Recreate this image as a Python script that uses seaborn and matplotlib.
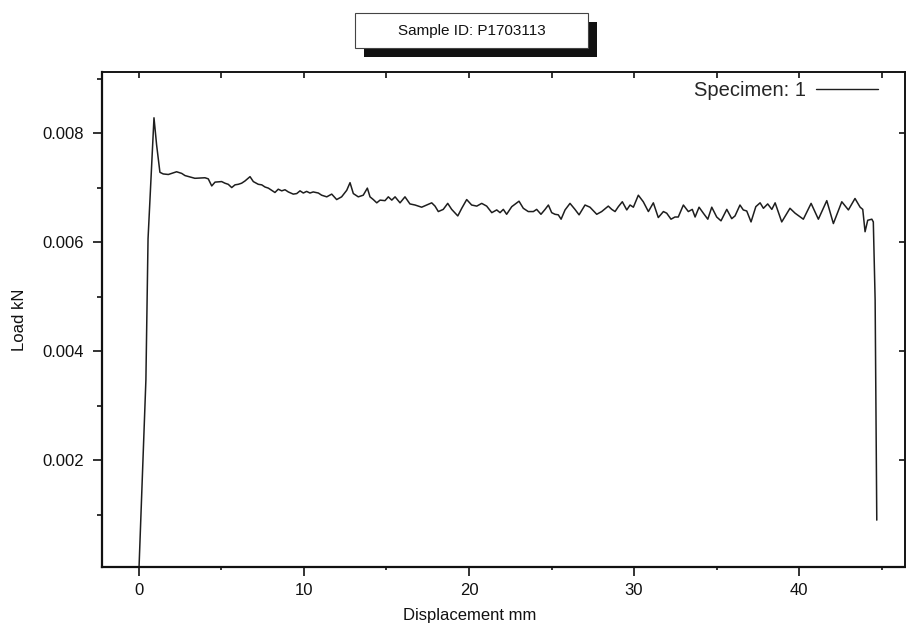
import matplotlib
matplotlib.use("Agg")
import matplotlib.pyplot as plt
import seaborn as sns
import numpy as np
import pandas as pd
from matplotlib.patches import Rectangle
from matplotlib.ticker import FixedLocator, NullFormatter

# ---------------- data ----------------
title_text = "Sample ID: P1703113"
series_label = "Specimen: 1"
x_label = "Displacement mm"
y_label = "Load kN"

displacement_mm = [
    0.00, 0.42, 0.55, 0.91, 1.07, 1.27, 1.47, 1.78, 2.28, 2.59, 2.79, 3.39, 4.00, 4.20, 4.41, 4.61,
    5.01, 5.21, 5.41, 5.62, 5.82, 6.02, 6.22, 6.42, 6.73, 6.93, 7.23, 7.44, 7.64, 7.84, 8.04, 8.24,
    8.44, 8.65, 8.85,
    9.05, 9.35, 9.56, 9.76, 9.96, 10.16, 10.36, 10.56, 10.87, 11.07, 11.38, 11.68, 11.98, 12.28,
    12.59, 12.79, 12.99, 13.29, 13.59, 13.84, 14.00, 14.20, 14.41, 14.61, 14.91, 15.11, 15.32,
    15.52, 15.82, 16.12, 16.42, 16.73, 17.13, 17.44, 17.74, 17.94,
    18.14, 18.44, 18.71, 18.95, 19.32, 19.56, 19.86, 20.16, 20.47, 20.77, 21.07, 21.38, 21.68,
    21.88, 22.08, 22.28, 22.59, 23.03, 23.29, 23.59, 23.90, 24.10, 24.36, 24.61, 24.81, 25.01,
    25.21, 25.41, 25.58, 25.82, 26.12, 26.42, 26.67, 27.03,
    27.33, 27.74, 28.04, 28.44, 28.65, 28.85, 29.05, 29.29, 29.56, 29.76, 29.96, 30.26, 30.56,
    30.87, 31.17, 31.47, 31.78, 31.98, 32.24, 32.48, 32.68, 32.99, 33.29, 33.53, 33.70, 33.94,
    34.20, 34.47, 34.71, 35.01, 35.27, 35.62, 35.92, 36.12,
    36.42, 36.62, 36.83, 37.09, 37.38, 37.64, 37.84, 38.10, 38.35, 38.55, 38.95, 39.45, 39.76,
    40.26, 40.73, 41.17, 41.68, 42.08, 42.59, 42.99, 43.39, 43.70, 43.86, 44.00, 44.16, 44.41,
    44.50, 44.61, 44.71,
]

# load in units of 0.001 kN
load_milli_kN = [
    0.00, 3.47, 6.06, 8.28, 7.78, 7.28, 7.25, 7.24, 7.29, 7.26, 7.22, 7.17, 7.18, 7.16, 7.03, 7.10,
    7.11, 7.08, 7.06, 7.00, 7.05, 7.06, 7.08, 7.12, 7.20, 7.11, 7.06, 7.05, 7.01, 6.99, 6.95, 6.91,
    6.97, 6.94, 6.96,
    6.92, 6.88, 6.89, 6.94, 6.90, 6.93, 6.90, 6.92, 6.90, 6.86, 6.83, 6.88, 6.78, 6.83,
    6.95, 7.09, 6.89, 6.83, 6.86, 6.99, 6.83, 6.78, 6.72, 6.77, 6.76, 6.83, 6.77,
    6.83, 6.72, 6.83, 6.70, 6.68, 6.64, 6.68, 6.72, 6.66,
    6.56, 6.60, 6.71, 6.60, 6.48, 6.62, 6.78, 6.68, 6.66, 6.71, 6.66, 6.54, 6.59,
    6.54, 6.60, 6.51, 6.65, 6.75, 6.62, 6.56, 6.56, 6.60, 6.51, 6.60, 6.68, 6.54,
    6.51, 6.50, 6.42, 6.59, 6.71, 6.60, 6.50, 6.68,
    6.64, 6.51, 6.56, 6.66, 6.60, 6.56, 6.65, 6.74, 6.59, 6.68, 6.64, 6.86, 6.74,
    6.56, 6.72, 6.45, 6.56, 6.53, 6.42, 6.46, 6.46, 6.68, 6.56, 6.60, 6.46, 6.64,
    6.53, 6.42, 6.64, 6.46, 6.39, 6.60, 6.43, 6.48,
    6.68, 6.59, 6.57, 6.37, 6.65, 6.72, 6.62, 6.70, 6.60, 6.72, 6.37, 6.62, 6.53,
    6.42, 6.71, 6.42, 6.76, 6.34, 6.74, 6.59, 6.80, 6.64, 6.60, 6.19, 6.40, 6.42,
    6.37, 4.94, 0.90,
]

x_major_ticks = [0, 10, 20, 30, 40]
x_minor_ticks = [5, 15, 25, 35, 45]
y_major_ticks = [0.002, 0.004, 0.006, 0.008]
y_minor_ticks = [0.001, 0.003, 0.005, 0.007, 0.009]
y_tick_labels = ["0.002", "0.004", "0.006", "0.008"]

df = pd.DataFrame({
    "Displacement": displacement_mm,
    "Load": np.array(load_milli_kN) / 1000.0,
})

# ---------------- styling ----------------
sns.set_theme(style="ticks")
plt.rcParams["font.family"] = ["Liberation Sans", "DejaVu Sans"]

W, H = 906, 629
fig = plt.figure(figsize=(W / 100, H / 100), dpi=100)
fig.patch.set_facecolor("white")

ax_left, ax_right, ax_top, ax_bottom = 102, 905, 72, 567
ax = fig.add_axes([ax_left / W, 1 - ax_bottom / H,
                   (ax_right - ax_left) / W, (ax_bottom - ax_top) / H])
ax.set_facecolor("white")

sns.lineplot(data=df, x="Displacement", y="Load", ax=ax, color="#1e1e1e",
             linewidth=1.1, sort=False, estimator=None, label=series_label)

ax.set_xlim(-2.24, 46.42)
ax.set_ylim(0.00004, 0.00912)

ax.xaxis.set_major_locator(FixedLocator(x_major_ticks))
ax.xaxis.set_minor_locator(FixedLocator(x_minor_ticks))
ax.yaxis.set_major_locator(FixedLocator(y_major_ticks))
ax.yaxis.set_minor_locator(FixedLocator(y_minor_ticks))
ax.set_yticklabels(y_tick_labels)
ax.xaxis.set_minor_formatter(NullFormatter())
ax.yaxis.set_minor_formatter(NullFormatter())

ax.tick_params(axis="both", which="major", direction="out", length=6.5, width=1.2,
               colors="#111111", labelsize=12, labelcolor="#111111")
ax.tick_params(axis="x", which="major", pad=5)
ax.tick_params(axis="y", which="major", pad=6.5)
ax.tick_params(axis="x", which="minor", direction="out", length=2.5, width=1.2, colors="#111111")
ax.tick_params(axis="y", which="minor", direction="out", length=3.8, width=1.2, colors="#111111")

for side in ["left", "bottom"]:
    ax.spines[side].set_linewidth(1.6)
    ax.spines[side].set_color("#111111")
for side in ["top", "right"]:
    ax.spines[side].set_visible(True)
    ax.spines[side].set_linewidth(1.2)
    ax.spines[side].set_color("#111111")

# inward ticks on top and right
sec_x = ax.secondary_xaxis("top")
sec_x.xaxis.set_major_locator(FixedLocator(x_major_ticks + x_minor_ticks))
sec_x.tick_params(direction="in", length=4, width=1.2, colors="#111111", labeltop=False)
sec_x.spines["top"].set_linewidth(1.2)
sec_y = ax.secondary_yaxis("right")
sec_y.yaxis.set_major_locator(FixedLocator(y_major_ticks))
sec_y.tick_params(direction="in", length=4, width=1.2, colors="#111111", labelright=False)

ax.set_xlabel(x_label, fontsize=12, color="#111111")
ax.xaxis.set_label_coords(0.458, -0.083)
ax.xaxis.label.set_va("top")
ax.set_ylabel(y_label, fontsize=12, color="#111111", labelpad=11)

leg = ax.legend(loc="upper right", bbox_to_anchor=(0.966, 0.981), frameon=False,
                markerfirst=False, handlelength=3.05, handletextpad=0.5,
                borderpad=0, borderaxespad=0, fontsize=14.5)
for line in leg.get_lines():
    line.set_linewidth(1.0)
    line.set_color("#1e1e1e")

# title box with drop shadow
bx0, by0, bx1, by1 = 355, 13, 588, 48
shadow = 9
fig.patches.append(Rectangle(((bx0 + shadow) / W, 1 - (by1 + shadow) / H),
                             (bx1 - bx0) / W, (by1 - by0) / H,
                             transform=fig.transFigure, facecolor="#111111",
                             edgecolor="none", zorder=1))
fig.patches.append(Rectangle((bx0 / W, 1 - by1 / H), (bx1 - bx0) / W, (by1 - by0) / H,
                             transform=fig.transFigure, facecolor="white",
                             edgecolor="#444444", linewidth=0.8, zorder=2))
fig.text((bx0 + bx1) / 2 / W, 1 - (by0 + by1) / 2 / H, title_text, ha="center",
         va="center", fontsize=11, color="#111111", zorder=3)

fig.savefig("out.png", dpi=100)
